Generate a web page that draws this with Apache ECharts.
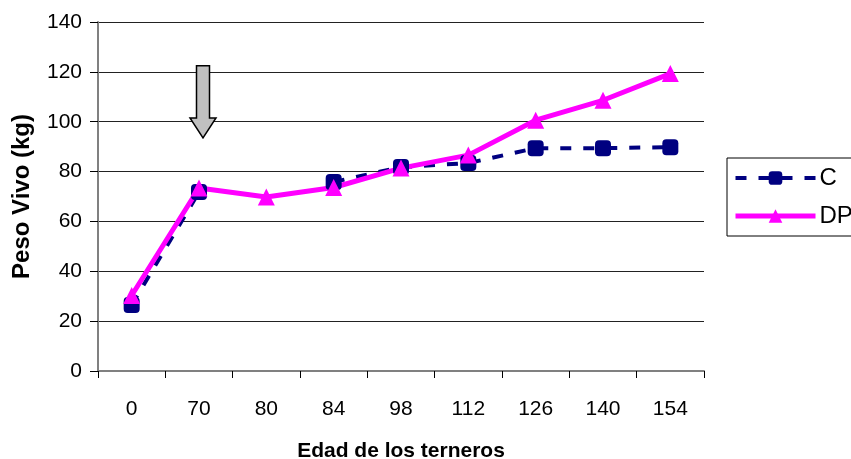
<!DOCTYPE html>
<html><head><meta charset="utf-8">
<script src="https://cdn.jsdelivr.net/npm/echarts@6/dist/echarts.min.js"></script>
<style>html,body{margin:0;padding:0;background:#fff}#c{width:851px;height:459px}</style>
</head><body><div id="c"></div>
<script>
const categories = ['0','70','80','84','98','112','126','140','154'];
const seriesC = [26.5, 71.8, null, 75.8, 81.8, 83.4, 89.4, 89.4, 89.8];
const seriesDP = [30.3, 73.4, 69.8, 73.6, 81.4, 86.6, 100.6, 108.6, 119.3];
const yTicks = [0,20,40,60,80,100,120,140];

const font = '"Liberation Sans", Arial, sans-serif';
const chart = echarts.init(document.getElementById('c'), null, {renderer:'canvas'});
chart.setOption({
  animation:false,
  backgroundColor:'#fff',
  grid:{left:98, right:147, top:22, bottom:88, containLabel:false, outerBoundsMode:'none'},
  legend:{
    left:727, top:158, orient:'vertical', itemGap:14,
    itemWidth:80, itemHeight:17,
    borderColor:'#000', borderWidth:1, padding:[8,6,8,6],
    textStyle:{fontFamily:font, fontSize:24, color:'#000', padding:[0,0,0,-1]},
    data:[
      {name:'C', lineStyle:{width:4}},
      {name:'DP', lineStyle:{width:5}}
    ]
  },
  xAxis:{
    type:'category', data:categories, boundaryGap:true,
    name:'Edad de los terneros', nameLocation:'middle', nameGap:70,
    nameTextStyle:{fontFamily:font, fontSize:21, fontWeight:'bold', color:'#000'},
    axisLine:{lineStyle:{color:'#808080', width:2}},
    axisTick:{show:true, alignWithLabel:false, length:7, lineStyle:{color:'#000'}},
    axisLabel:{fontFamily:font, fontSize:21, color:'#000', margin:28}
  },
  yAxis:{
    type:'value', min:0, max:140, interval:20,
    name:'Peso Vivo (kg)', nameLocation:'middle', nameGap:64,
    nameTextStyle:{fontFamily:font, fontSize:24, fontWeight:'bold', color:'#000'},
    axisLine:{show:true, lineStyle:{color:'#808080', width:2}},
    axisTick:{show:true, inside:false, length:8, lineStyle:{color:'#000'}},
    axisLabel:{fontFamily:font, fontSize:21, color:'#000', margin:16,
      formatter:v=>yTicks.includes(v)?String(v):''},
    splitLine:{show:true, lineStyle:{color:'#222', width:1}}
  },
  series:[
    {name:'C', type:'line', data:seriesC, connectNulls:false,
     symbol:'roundRect', symbolSize:16,
     itemStyle:{color:'#000080'},
     lineStyle:{color:'#000080', width:4, type:[11,12]}},
    {name:'DP', type:'line', data:seriesDP,
     symbol:'triangle', symbolSize:17,
     itemStyle:{color:'#FF00FF'},
     lineStyle:{color:'#FF00FF', width:5}}
  ]
});
// arrow annotation above category 70
const p = chart.convertToPixel({xAxisIndex:0, yAxisIndex:0}, ['70', 0]);
const yTop = chart.convertToPixel({yAxisIndex:0}, 122.5);
const yHead = chart.convertToPixel({yAxisIndex:0}, 101.5);
const yTip = chart.convertToPixel({yAxisIndex:0}, 93.5);
const cx = p[0] + 4;
chart.setOption({graphic:[{
  type:'polygon',
  shape:{points:[[cx-6.5,yTop],[cx+6.5,yTop],[cx+6.5,yHead],[cx+13,yHead],[cx,yTip],[cx-13,yHead],[cx-6.5,yHead]]},
  style:{fill:'#C0C0C0', stroke:'#000', lineWidth:1.5}
}]});
</script></body></html>
